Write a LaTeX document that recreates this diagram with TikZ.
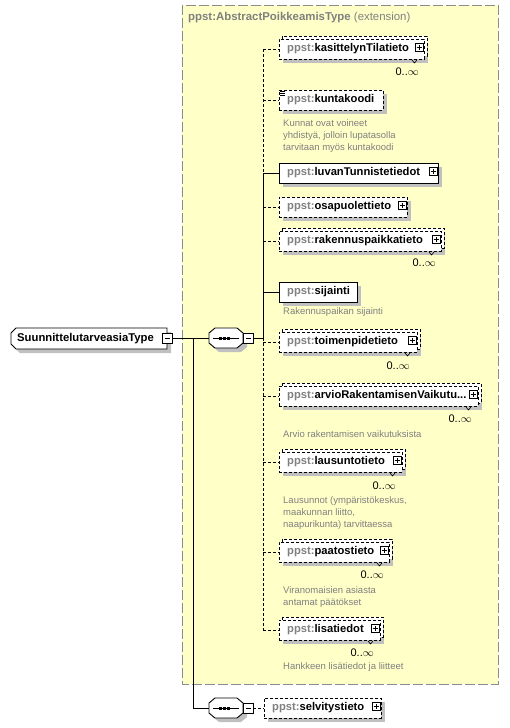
\documentclass[tikz,border=0pt]{standalone}
\usepackage{fontspec}
\setmainfont{Liberation Sans}
\definecolor{ppgray}{RGB}{128,128,128}
\definecolor{shade}{RGB}{192,192,192}
\definecolor{ylw}{RGB}{255,255,200}
\definecolor{bordergray}{RGB}{140,140,140}
\tikzset{
  lw/.style={line width=0.9pt},
  dsh/.style={dash pattern=on 3pt off 2pt},
  boxnode/.style={draw, fill=white, line width=0.9pt, inner sep=0, minimum height=20, anchor=west},
  lbl/.style={font=\fontsize{11.2}{13}\selectfont\bfseries, inner sep=0, anchor=west},
  cmt/.style={font=\fontsize{9.5}{12}\selectfont, text=ppgray, align=left, inner sep=0, anchor=north west},
  mult/.style={font=\fontsize{11}{13}\selectfont, inner sep=0, anchor=east},
  shd/.style={fill=shade},
  minusbox/.style={draw, fill=white, line width=0.9pt, inner sep=0, minimum width=10, minimum height=10},
  anchorbox/.style={inner sep=0, minimum width=34, minimum height=20},
}
% #1 name, #2 left, #3 cy, #4 right, #5 text, #6 style, #7 multi, #8 plus
\newcommand{\elem}[8]{%
  \fill[shd] (#2+4,#3-6) rectangle (#4+4,#3+14);
  \ifnum#7=1
    \draw[lw,#6,fill=white] (#2+3,#3-13) rectangle (#4+3,#3+7);
  \fi
  \node[boxnode,#6,minimum width=#4-#2] (#1) at (#2,#3) {};
  \node[lbl] (#1-l) at (#2+8,#3-0.5) {\textcolor{ppgray}{ppst:}#5};
  \ifnum#8=1
    \draw[line width=0.8pt,fill=white] (#4-9,#3-5.5) rectangle (#4-1,#3+2.5);
    \draw[line width=0.7pt] (#4-7.5,#3-1.5) -- (#4-2.5,#3-1.5) (#4-5,#3-4) -- (#4-5,#3+1);
  \fi
  \ifnum#7=1
    \draw[line width=0.6pt] (#4-12,#3+11) -- (#4-9.5,#3+14) -- (#4-7,#3+11);
  \fi
}
% compositor: #1 name, #2 cx, #3 cy
\newcommand{\seqc}[3]{%
  \fill[shd] (#2-7,#3-6) -- (#2+15,#3-6) -- (#2+21,#3-1) -- (#2+21,#3+9) -- (#2+15,#3+14) -- (#2-7,#3+14) -- (#2-13,#3+9) -- (#2-13,#3-1) -- cycle;
  \node[anchorbox] (#1) at (#2,#3) {};
  \draw[lw,fill=white] (#2-11,#3-10) -- (#2+11,#3-10) -- (#2+17,#3-5) -- (#2+17,#3+5) -- (#2+11,#3+10) -- (#2-11,#3+10) -- (#2-17,#3+5) -- (#2-17,#3-5) -- cycle;
  \draw[lw] (#2-13,#3) -- (#2+13,#3);
  \fill (#2-7.5,#3-1.5) rectangle (#2-4.5,#3+1.5);
  \fill (#2-3.5,#3-1.5) rectangle (#2-0.5,#3+1.5);
  \fill (#2+0.5,#3-1.5) rectangle (#2+3.5,#3+1.5);
  \node[minusbox] (#1m) at (#2+22,#3) {};
  \draw[line width=0.8pt] (#2+19.5,#3) -- (#2+24.5,#3);
}
\begin{document}
\begin{tikzpicture}[x=1pt,y=-1pt]
\useasboundingbox (0,0) rectangle (509,728);
% extension box
\draw[bordergray, line width=1pt, dash pattern=on 10pt off 3pt, fill=ylw] (182,5) rectangle (498,684);
\node[inner sep=0, anchor=west, text=ppgray, font=\fontsize{11.4}{13}\selectfont] (title) at (188,18) {\textbf{ppst:AbstractPoikkeamisType} (extension)};

% main type node
\fill[shd] (20,332) -- (171,332) -- (171,353) -- (20,353) -- (15,348) -- (15,337) -- cycle;
\draw[lw,fill=white] (16,328) -- (167,328) -- (167,349) -- (16,349) -- (11,344) -- (11,333) -- cycle;
\node[lbl, font=\fontsize{11.3}{13}\selectfont\bfseries] (main) at (17,338.5) {SuunnittelutarveasiaType};
\node[minusbox] (mainm) at (167,338) {};
\draw[line width=0.8pt] (164.5,338) -- (169.5,338);

% compositors
\seqc{seqa}{226}{338}
\seqc{seqb}{226}{708}

% trunk coordinates
\coordinate (trk) at (263,338);
\coordinate (br) at (193,338);

% elements
\elem{kas}{279}{49}{424}{kasittelynTilatieto}{dsh}{1}{1}
\elem{kun}{279}{100}{383}{kuntakoodi}{dsh}{0}{0}
\draw[line width=0.7pt] (280,91) -- (285,91) (280,93) -- (285,93) (280,95) -- (285,95);
\elem{luv}{279}{173}{438}{luvanTunnistetiedot}{solid}{0}{1}
\elem{osa}{279}{207}{407}{osapuolettieto}{dsh}{0}{1}
\elem{rak}{279}{241}{441}{rakennuspaikkatieto}{dsh}{1}{1}
\elem{sij}{279}{292}{357}{sijainti}{solid}{0}{0}
\elem{toi}{279}{342}{417}{toimenpidetieto}{dsh}{1}{1}
\elem{arv}{279}{396}{478}{arvioRakentamisenVaikutu...}{dsh}{1}{1}
\elem{lau}{279}{462}{402}{lausuntotieto}{dsh}{1}{1}
\elem{paa}{279}{552}{389}{paatostieto}{dsh}{1}{1}
\elem{lis}{279}{630}{380}{lisatiedot}{dsh}{1}{1}
\elem{sel}{264}{708}{381}{selvitystieto}{dsh}{0}{1}

% multiplicities
\node[mult] (kasm) at (419,72) {0..$\infty$};
\node[mult] (rakm) at (436,263) {0..$\infty$};
\node[mult] (toim) at (410,366) {0..$\infty$};
\node[mult] (arvm) at (472,419) {0..$\infty$};
\node[mult] (laum) at (396,486) {0..$\infty$};
\node[mult] (paam) at (384,575) {0..$\infty$};
\node[mult] (lism) at (374,653) {0..$\infty$};

% comments
\node[cmt] (kunc) at (283,119.5) {Kunnat ovat voineet\\yhdistyä, jolloin lupatasolla\\tarvitaan myös kuntakoodi};
\node[cmt] (sijc) at (283,307.5) {Rakennuspaikan sijainti};
\node[cmt] (arvc) at (283,430.5) {Arvio rakentamisen vaikutuksista};
\node[cmt] (lauc) at (283,496.5) {Lausunnot (ympäristökeskus,\\maakunnan liitto,\\naapurikunta) tarvittaessa};
\node[cmt] (paac) at (283,586.5) {Viranomaisien asiasta\\antamat päätökset};
\node[cmt] (lisc) at (283,662.5) {Hankkeen lisätiedot ja liitteet};

% connectors
\draw[lw] (mainm.east) -- (seqa.west);
\draw[lw] (seqam.east) -- (trk);
\draw[lw] (br) |- (seqb.west);
\draw[lw,dsh] (seqbm.east) -- (sel.west);
\draw[lw,dsh] (kas.west -| trk) -- (luv.west -| trk);
\draw[lw] (luv.west -| trk) -- (trk);
\draw[lw,dsh] (trk) -- (lis.west -| trk);
\draw[lw,dsh] (kas.west -| trk) -- (kas.west);
\draw[lw,dsh] (kun.west -| trk) -- (kun.west);
\draw[lw] (luv.west -| trk) -- (luv.west);
\draw[lw,dsh] (osa.west -| trk) -- (osa.west);
\draw[lw,dsh] (rak.west -| trk) -- (rak.west);
\draw[lw] (sij.west -| trk) -- (sij.west);
\draw[lw,dsh] (toi.west -| trk) -- (toi.west);
\draw[lw,dsh] (arv.west -| trk) -- (arv.west);
\draw[lw,dsh] (lau.west -| trk) -- (lau.west);
\draw[lw,dsh] (paa.west -| trk) -- (paa.west);
\draw[lw,dsh] (lis.west -| trk) -- (lis.west);
\end{tikzpicture}
\end{document}
